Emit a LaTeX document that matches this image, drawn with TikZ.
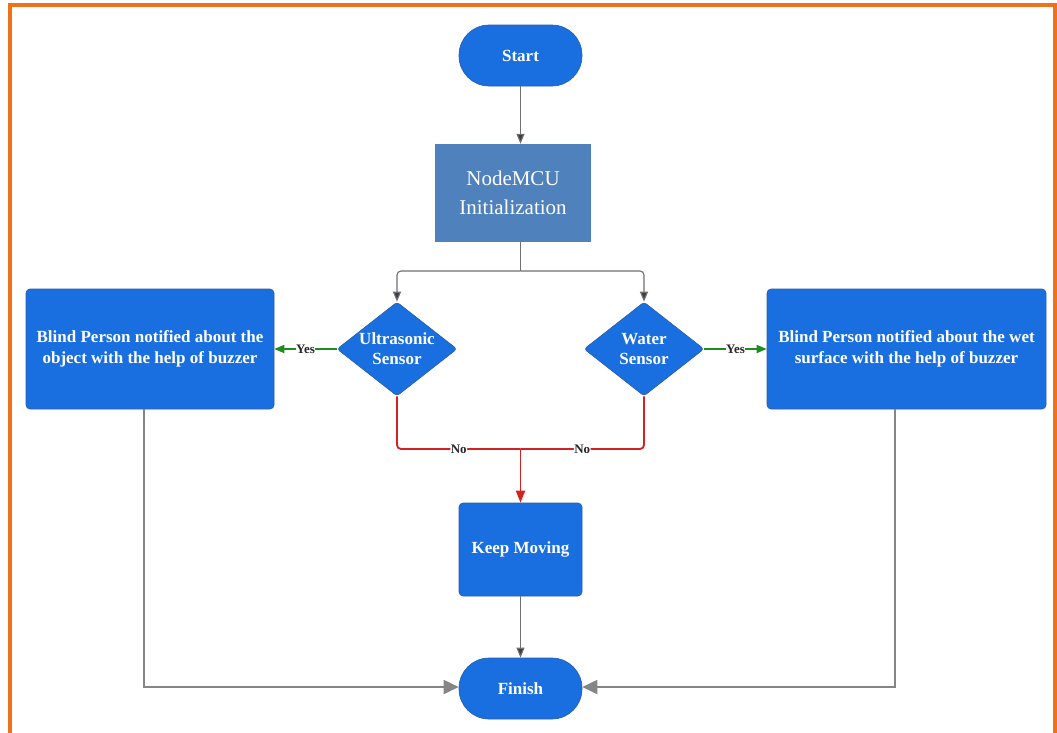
\documentclass[tikz,border=0pt]{standalone}
\usepackage{fontspec}
\setmainfont{Liberation Serif}
\usetikzlibrary{shapes.geometric,arrows.meta}
\definecolor{boxblue}{HTML}{1A6FE0}
\definecolor{boxedge}{HTML}{2B5CA6}
\definecolor{initblue}{HTML}{4F81BD}
\definecolor{frameorange}{HTML}{EE7318}
\definecolor{yesgreen}{HTML}{1E8C1E}
\definecolor{nored}{HTML}{D42222}
\definecolor{connline}{HTML}{707070}
\definecolor{connhead}{HTML}{3A3F4A}
\definecolor{bigline}{HTML}{858585}
\begin{document}
\begin{tikzpicture}[x=1pt,y=-1pt,
  term/.style={rectangle, rounded corners=30pt, minimum width=123pt, minimum height=61pt,
    fill=boxblue, draw=boxedge, line width=0.6pt, text=white, inner sep=0pt,
    font=\bfseries\fontsize{17}{20}\selectfont},
  procbox/.style={rectangle, rounded corners=4pt, fill=boxblue, draw=boxedge, line width=0.6pt,
    text=white, inner sep=0pt, align=center, font=\bfseries\fontsize{17}{21}\selectfont},
  initbox/.style={rectangle, fill=initblue, text=white, inner sep=0pt, align=center,
    minimum width=156pt, minimum height=98pt, font=\fontsize{21}{29}\selectfont},
  decision/.style={diamond, aspect=1.28, rounded corners=3pt, fill=boxblue, draw=boxedge,
    line width=0.6pt, text=white, inner sep=0pt, align=center,
    minimum width=120pt, minimum height=94pt, font=\bfseries\fontsize{17}{20}\selectfont},
  conn/.style={draw=connline, line width=1.1pt, -{Triangle[length=10pt,width=8pt,fill=connhead]}},
  connplain/.style={draw=connline, line width=1.1pt},
  bigarrow/.style={draw=bigline, line width=1.8pt, -{Triangle[length=15pt,width=14pt]}},
  yesarrow/.style={draw=yesgreen, line width=1.8pt, -{Triangle[length=10pt,width=8pt]}},
  noline/.style={draw=nored, line width=1.8pt},
  noarrow/.style={draw=nored, line width=1.8pt, -{Triangle[length=12pt,width=9pt]}},
  lbl/.style={fill=white, inner sep=0.5pt, text=black!85, font=\bfseries\fontsize{13}{14}\selectfont}
]
\useasboundingbox (0,0) rectangle (1057,732);
\fill[white] (0,0) rectangle (1057,732);
\draw[frameorange, line width=4pt] (10,734) -- (10,5) -- (1055,5) -- (1055,734);

\node[term] (start) at (520.5,55.5) {Start};
\node[initbox] (init) at (513,193) {NodeMCU\\Initialization};
\node[decision] (us) at (397,349) {Ultrasonic\\Sensor};
\node[decision] (ws) at (644,349) {Water\\Sensor};
\node[procbox, minimum width=248pt, minimum height=120pt] (lbox) at (150,349)
  {Blind Person notified about the\\object with the help of buzzer};
\node[procbox, minimum width=279pt, minimum height=120pt] (rbox) at (906.5,349)
  {Blind Person notified about the wet\\surface with the help of buzzer};
\node[procbox, minimum width=123pt, minimum height=93pt] (km) at (520.5,549.5) {Keep Moving};
\node[term] (fin) at (520.5,688.5) {Finish};
\coordinate (split) at (520.5,271);
\coordinate (join) at (520.5,449);

\draw[conn] (start.south) -- (start.south |- init.north);
\draw[connplain] (start.south |- init.south) -- (split);
\draw[conn, rounded corners=4pt] (split) -| (us.north);
\draw[conn, rounded corners=4pt] (split) -| (ws.north);

\draw[yesarrow] (us.west) -- node[lbl] {Yes} (lbox.east);
\draw[yesarrow] (ws.east) -- node[lbl] {Yes} (rbox.west);

\draw[noline, rounded corners=4pt] (us.south) |- node[pos=0.75, lbl] {No} (join);
\draw[noline, rounded corners=4pt] (ws.south) |- node[pos=0.75, lbl] {No} (join);
\draw[noarrow] (join) -- (km.north);

\draw[conn] (km.south) -- (fin.north);
\draw[bigarrow] ([xshift=-6pt]lbox.south) |- ([yshift=1.5pt]fin.west);
\draw[bigarrow] ([xshift=-11.5pt]rbox.south) |- ([yshift=1.5pt]fin.east);
\end{tikzpicture}
\end{document}
